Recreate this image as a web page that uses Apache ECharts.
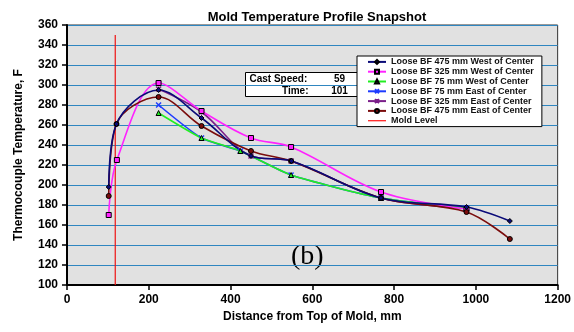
<!DOCTYPE html>
<html>
<head>
<meta charset="utf-8">
<script src="https://cdn.jsdelivr.net/npm/echarts@6/dist/echarts.min.js"></script>
<style>
  html, body { margin: 0; padding: 0; background: #fff; }
  #chart { width: 574px; height: 332px; }
</style>
</head>
<body>
<div id="chart"></div>
<script>
// Thermocouple readings along the mold, distance (mm) vs temperature (F)
const west475 = [[102, 198], [121, 261], [224, 295], [329, 267], [450, 229], [549, 224], [768, 187], [977, 178], [1083, 164]];
const west325 = [[102, 170], [122, 225], [224, 302], [329, 274], [450, 247], [548, 238], [768, 193], [977, 176]];
const west75  = [[224, 272], [329, 247], [424, 234], [548, 210], [768, 187], [977, 177]];
const east75  = [[224, 280], [329, 247], [424, 234], [548, 210], [768, 187], [977, 177]];
const east325 = [[224, 296], [329, 273], [450, 229], [548, 224], [768, 187], [977, 177]];
const east475 = [[102, 189], [121, 261], [224, 288], [329, 259], [450, 234], [548, 224], [768, 187], [977, 173], [1083, 146]];
const moldLevel = [[118, 100], [118, 350]];

const seriesNames = [
  'Loose BF 475 mm West of Center',
  'Loose BF 325 mm West of Center',
  'Loose BF 75 mm West of Center',
  'Loose BF 75 mm East of Center',
  'Loose BF 325 mm East of Center',
  'Loose BF 475 mm East of Center',
  'Mold Level'
];
const xTicks = [0, 200, 400, 600, 800, 1000, 1200];
const yTicks = [100, 120, 140, 160, 180, 200, 220, 240, 260, 280, 300, 320, 340, 360];
const castSpeed = 59;
const castTime = 101;

const chart = echarts.init(document.getElementById('chart'));

const xPath = 'path://M0,0L10,10M10,0L0,10';
const starPath = 'path://M0,0L10,10M10,0L0,10M5,0L5,10';

function lineSeries(name, data, color, symbol, size, fill, smooth) {
  const isPath = symbol.indexOf('path') === 0;
  return {
    name: name,
    type: 'line',
    data: data,
    smooth: smooth,
    symbol: symbol,
    symbolSize: size,
    lineStyle: { color: color, width: 1.6 },
    itemStyle: { color: fill, borderColor: isPath ? color : '#000', borderWidth: isPath ? 1.5 : 1 },
    emphasis: { disabled: true },
    z: 3
  };
}

const font = '"Liberation Sans", Arial, sans-serif';

const legendData = seriesNames.map(function (n, i) {
  return i === 6 ? { name: n, icon: 'path://M0,0L20,0L20,1.5L0,1.5Z', itemStyle: { color: '#ff3030' } } : { name: n };
});

chart.setOption({
  animation: false,
  backgroundColor: '#ffffff',
  title: {
    text: 'Mold Temperature Profile Snapshot',
    left: 312, top: 6, textAlign: 'center',
    textStyle: { fontFamily: font, fontWeight: 'bold', fontSize: 13, color: '#000' }
  },
  grid: {
    left: 67, right: 16, top: 25, bottom: 47,
    show: true, backgroundColor: '#e1e1e1', borderColor: '#333', borderWidth: 1
  },
  legend: {
    data: legendData,
    orient: 'vertical',
    left: 357, top: 56,
    padding: [1, 8, 1, 10],
    itemGap: 0,
    itemWidth: 18, itemHeight: 5,
    backgroundColor: '#ffffff',
    borderColor: '#000', borderWidth: 1,
    textStyle: { fontFamily: font, fontWeight: 'bold', fontSize: 9, color: '#111', lineHeight: 9.8 }
  },
  xAxis: {
    type: 'value', min: xTicks[0], max: xTicks[xTicks.length - 1], interval: 200,
    name: 'Distance from Top of Mold, mm', nameLocation: 'middle', nameGap: 25,
    nameTextStyle: { fontFamily: font, fontWeight: 'bold', fontSize: 12, color: '#000' },
    axisLine: { show: true, lineStyle: { color: '#000', width: 2 } },
    axisTick: { show: true, length: 5, lineStyle: { color: '#000', width: 1.5 } },
    axisLabel: { fontFamily: font, fontWeight: 'bold', fontSize: 12, color: '#000', margin: 9,
      formatter: function (v) { return String(v); } },
    splitLine: { show: false }
  },
  yAxis: {
    type: 'value', min: yTicks[0], max: yTicks[yTicks.length - 1], interval: 20,
    name: 'Thermocouple Temperature, F', nameLocation: 'middle', nameGap: 42,
    nameTextStyle: { fontFamily: font, fontWeight: 'bold', fontSize: 12, color: '#000' },
    axisLine: { show: true, lineStyle: { color: '#000', width: 2 } },
    axisTick: { show: true, length: 5, lineStyle: { color: '#000', width: 1.5 } },
    axisLabel: { fontFamily: font, fontWeight: 'bold', fontSize: 12, color: '#000', margin: 9,
      formatter: function (v) { return String(v); } },
    splitLine: { show: true, lineStyle: { color: '#2f86c0', width: 1 } }
  },
  graphic: [
    {
      type: 'group', left: 245, top: 72,
      children: [
        { type: 'rect', shape: { x: 0, y: 0, width: 112, height: 24 },
          style: { fill: '#fff', stroke: '#000', lineWidth: 1 } },
        { type: 'text', x: 4, y: 7, style: { text: 'Cast Speed:', align: 'left', verticalAlign: 'middle', font: 'bold 10px ' + font, fill: '#000' } },
        { type: 'text', x: 63, y: 19, style: { text: 'Time:', align: 'right', verticalAlign: 'middle', font: 'bold 10px ' + font, fill: '#000' } },
        { type: 'text', x: 94, y: 7, style: { text: String(castSpeed), align: 'center', verticalAlign: 'middle', font: 'bold 10px ' + font, fill: '#000' } },
        { type: 'text', x: 94, y: 19, style: { text: String(castTime), align: 'center', verticalAlign: 'middle', font: 'bold 10px ' + font, fill: '#000' } }
      ]
    },
    {
      type: 'text', left: 291, top: 243,
      style: { text: '(b)', font: '28px "Liberation Serif", "Times New Roman", serif', fill: '#000' }
    }
  ],
  series: [
    lineSeries(seriesNames[4], east325, '#7b1f8a', starPath, 5, '#7b1f8a', 0.35),
    lineSeries(seriesNames[3], east75, '#1e3cff', xPath, 5, '#1e3cff', 0.2),
    lineSeries(seriesNames[2], west75, '#22ee22', 'triangle', 5, '#22ee22', 0.2),
    lineSeries(seriesNames[1], west325, '#ff22ff', 'rect', 5, '#ff22ff', 0.35),
    lineSeries(seriesNames[5], east475, '#7a0c0c', 'circle', 5, '#7a0c0c', 0.35),
    lineSeries(seriesNames[0], west475, '#0a0a78', 'diamond', 5, '#0a0a78', 0.35),
    {
      name: seriesNames[6], type: 'line', data: moldLevel, symbol: 'none',
      lineStyle: { color: '#ee1111', width: 1.2 }, itemStyle: { color: '#ee1111' },
      emphasis: { disabled: true }, z: 2
    }
  ]
});
</script>
</body>
</html>
